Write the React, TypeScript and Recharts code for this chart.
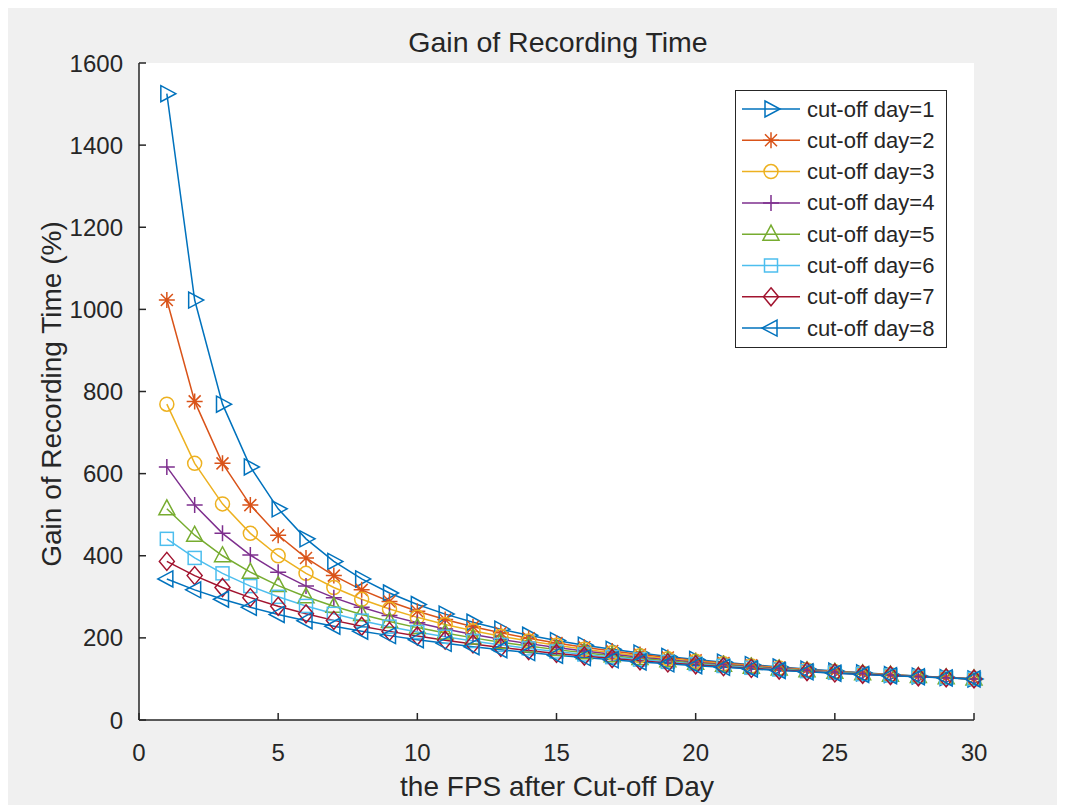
import { LineChart, Line, XAxis, YAxis, CartesianGrid, Legend } from 'recharts';

// FPS after the cut-off day (x axis)
const fps = [1, 2, 3, 4, 5, 6, 7, 8, 9, 10, 11, 12, 13, 14, 15, 16, 17, 18, 19, 20, 21, 22, 23, 24, 25, 26, 27, 28, 29, 30];

// gain of recording time (%) for each cut-off day
const day1 = [1525.4, 1022.7, 769.2, 616.4, 514.3, 441.2, 386.3, 343.5, 309.3, 281.3, 257.9, 238.1, 221.1, 206.4, 193.5, 182.2, 172.1, 163.0, 154.9, 147.5, 140.8, 134.7, 129.1, 124.0, 119.2, 114.8, 110.7, 106.9, 103.3, 100.0];
const day2 = [1022.7, 775.9, 625.0, 523.3, 450.0, 394.7, 351.6, 316.9, 288.5, 264.7, 244.6, 227.3, 212.3, 199.1, 187.5, 177.2, 167.9, 159.6, 152.0, 145.2, 138.9, 133.1, 127.8, 123.0, 118.4, 114.2, 110.3, 106.6, 103.2, 100.0];
const day3 = [769.2, 625.0, 526.3, 454.5, 400.0, 357.1, 322.6, 294.1, 270.3, 250.0, 232.6, 217.4, 204.1, 192.3, 181.8, 172.4, 163.9, 156.3, 149.3, 142.9, 137.0, 131.6, 126.6, 122.0, 117.6, 113.6, 109.9, 106.4, 103.1, 100.0];
const day4 = [616.4, 523.3, 454.5, 401.8, 360.0, 326.1, 298.0, 274.4, 254.2, 236.8, 221.7, 208.3, 196.5, 186.0, 176.5, 167.9, 160.1, 153.1, 146.6, 140.6, 135.1, 130.1, 125.3, 121.0, 116.9, 113.1, 109.5, 106.1, 103.0, 100.0];
const day5 = [514.3, 450.0, 400.0, 360.0, 327.3, 300.0, 276.9, 257.1, 240.0, 225.0, 211.8, 200.0, 189.5, 180.0, 171.4, 163.6, 156.5, 150.0, 144.0, 138.5, 133.3, 128.6, 124.1, 120.0, 116.1, 112.5, 109.1, 105.9, 102.9, 100.0];
const day6 = [441.2, 394.7, 357.1, 326.1, 300.0, 277.8, 258.6, 241.9, 227.3, 214.3, 202.7, 192.3, 182.9, 174.4, 166.7, 159.6, 153.1, 147.1, 141.5, 136.4, 131.6, 127.1, 123.0, 119.0, 115.4, 111.9, 108.7, 105.6, 102.7, 100.0];
const day7 = [386.3, 351.6, 322.6, 298.0, 276.9, 258.6, 242.6, 228.4, 215.8, 204.5, 194.4, 185.2, 176.8, 169.2, 162.2, 155.7, 149.8, 144.2, 139.1, 134.3, 129.9, 125.7, 121.8, 118.1, 114.6, 111.4, 108.3, 105.4, 102.6, 100.0];
const day8 = [343.5, 316.9, 294.1, 274.4, 257.1, 241.9, 228.4, 216.3, 205.5, 195.7, 186.7, 178.6, 171.1, 164.2, 157.9, 152.0, 146.6, 141.5, 136.8, 132.4, 128.2, 124.3, 120.6, 117.2, 113.9, 110.8, 107.9, 105.1, 102.5, 100.0];

const xTicks = [0, 5, 10, 15, 20, 25, 30];
const yTicks = [0, 200, 400, 600, 800, 1000, 1200, 1400, 1600];

const series = [
  { key: 'd1', name: 'cut-off day=1', values: day1, color: '#0072BD', shape: 'right' },
  { key: 'd2', name: 'cut-off day=2', values: day2, color: '#D95319', shape: 'star' },
  { key: 'd3', name: 'cut-off day=3', values: day3, color: '#EDB120', shape: 'circle' },
  { key: 'd4', name: 'cut-off day=4', values: day4, color: '#7E2F8E', shape: 'plus' },
  { key: 'd5', name: 'cut-off day=5', values: day5, color: '#77AC30', shape: 'up' },
  { key: 'd6', name: 'cut-off day=6', values: day6, color: '#4DBEEE', shape: 'square' },
  { key: 'd7', name: 'cut-off day=7', values: day7, color: '#A2142F', shape: 'diamond' },
  { key: 'd8', name: 'cut-off day=8', values: day8, color: '#0072BD', shape: 'left' },
];

const data = fps.map((x, i) => {
  const row: Record<string, number> = { fps: x };
  series.forEach((s) => (row[s.key] = s.values[i]));
  return row;
});

const FONT = '"Liberation Sans", Arial, Helvetica, sans-serif';
const INK = '#262626';

function Marker({ shape, cx, cy, color }: { shape: string; cx: number; cy: number; color: string }) {
  const p = { fill: 'none', stroke: color, strokeWidth: 1.5 };
  switch (shape) {
    case 'right':
      return <polygon {...p} points={`${cx - 6},${cy - 8} ${cx + 9},${cy} ${cx - 6},${cy + 8}`} />;
    case 'left':
      return <polygon {...p} points={`${cx + 6},${cy - 8} ${cx - 9},${cy} ${cx + 6},${cy + 8}`} />;
    case 'up':
      return <polygon {...p} points={`${cx - 8},${cy + 6} ${cx},${cy - 9} ${cx + 8},${cy + 6}`} />;
    case 'star':
      return (
        <path
          {...p}
          d={`M${cx - 8},${cy}H${cx + 8}M${cx},${cy - 8}V${cy + 8}M${cx - 6},${cy - 6}L${cx + 6},${cy + 6}M${cx - 6},${cy + 6}L${cx + 6},${cy - 6}`}
        />
      );
    case 'circle':
      return <circle {...p} cx={cx} cy={cy} r={7} />;
    case 'plus':
      return <path {...p} d={`M${cx - 8},${cy}H${cx + 8}M${cx},${cy - 8}V${cy + 8}`} />;
    case 'square':
      return <rect {...p} x={cx - 6.5} y={cy - 6.5} width={13} height={13} />;
    case 'diamond':
      return <polygon {...p} points={`${cx},${cy - 9} ${cx + 7.5},${cy} ${cx},${cy + 9} ${cx - 7.5},${cy}`} />;
    default:
      return null;
  }
}

const makeDot = (shape: string, color: string) => (props: any) => {
  const { cx, cy, index } = props;
  if (cx == null || cy == null) return <g key={`e-${index}`} />;
  return (
    <g key={`${shape}-${index}`}>
      <Marker shape={shape} cx={cx} cy={cy} color={color} />
    </g>
  );
};

function LegendBox() {
  return (
    <div
      style={{
        width: 212,
        height: 258,
        boxSizing: 'border-box',
        background: '#fff',
        border: `1px solid ${INK}`,
      }}
    >
      <svg width={210} height={256}>
        {series.map((s, i) => {
          const y = 18 + i * 31.3;
          return (
            <g key={s.key}>
              <line x1={6} x2={64} y1={y} y2={y} stroke={s.color} strokeWidth={1.5} />
              <Marker shape={s.shape} cx={35} cy={y} color={s.color} />
              <text x={71} y={y} dominantBaseline="central" fontSize={22} fontFamily={FONT} fill={INK}>
                {s.name}
              </text>
            </g>
          );
        })}
      </svg>
    </div>
  );
}

export default function App() {
  return (
    <div style={{ width: 1049, height: 797, background: '#f0f0f0', fontFamily: FONT }}>
      <LineChart width={1049} height={797} data={data} margin={{ top: 55, right: 83, bottom: 25, left: 51 }}>
        <CartesianGrid horizontal={false} vertical={false} fill="#ffffff" />
        <XAxis
          xAxisId="b"
          dataKey="fps"
          type="number"
          domain={[0, 30]}
          ticks={xTicks}
          height={60}
          tickSize={-7}
          tickMargin={31}
          stroke={INK}
          strokeWidth={1.5}
          tick={{ fontSize: 24, fill: INK, fontFamily: FONT }}
          label={() => (
            <g>
              <text x={549} y={788} textAnchor="middle" fontSize={28} fontFamily={FONT} fill={INK}>
                the FPS after Cut-off Day
              </text>
              <text x={550} y={44} textAnchor="middle" fontSize={28.5} fontFamily={FONT} fill={INK}>
                Gain of Recording Time
              </text>
            </g>
          )}
        />
        <XAxis
          xAxisId="t"
          orientation="top"
          dataKey="fps"
          type="number"
          domain={[0, 30]}
          ticks={xTicks}
          height={0}
          tickSize={-7}
          tick={false}
          stroke={INK}
          strokeWidth={1.5}
        />
        <YAxis
          yAxisId="l"
          type="number"
          domain={[0, 1600]}
          ticks={yTicks}
          width={80}
          tickSize={-7}
          tickMargin={23}
          stroke={INK}
          strokeWidth={1.5}
          tick={{ fontSize: 24, fill: INK, fontFamily: FONT }}
          label={() => (
            <text
              x={53}
              y={386}
              transform="rotate(-90 53 386)"
              textAnchor="middle"
              fontSize={28}
              fontFamily={FONT}
              fill={INK}
            >
              Gain of Recording Time (%)
            </text>
          )}
        />
        <YAxis
          yAxisId="r"
          orientation="right"
          type="number"
          domain={[0, 1600]}
          ticks={yTicks}
          width={0}
          tickSize={-7}
          tick={false}
          stroke={INK}
          strokeWidth={1.5}
        />
        <Legend
          layout="horizontal"
          verticalAlign="middle"
          align="center"
          content={() => <LegendBox />}
          wrapperStyle={{ left: 727, top: 82, width: 212, height: 258 }}
        />
        {series.map((s) => (
          <Line
            key={s.key}
            xAxisId="b"
            yAxisId="l"
            type="linear"
            dataKey={s.key}
            name={s.name}
            stroke={s.color}
            strokeWidth={1.5}
            dot={makeDot(s.shape, s.color)}
            activeDot={false}
            isAnimationActive={false}
          />
        ))}
      </LineChart>
    </div>
  );
}
